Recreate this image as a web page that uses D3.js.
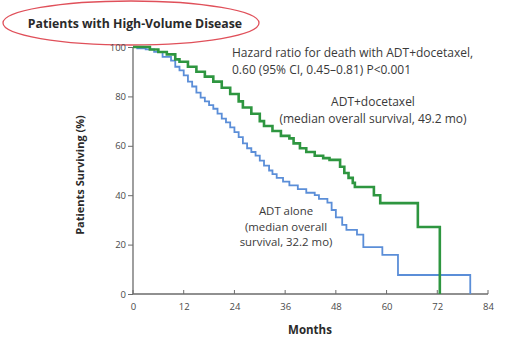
<!DOCTYPE html>
<html><head><meta charset="utf-8">
<script src="https://cdn.jsdelivr.net/npm/d3@7"></script>
<style>body{margin:0;background:#fff;}svg{display:block;font-family:"Open Sans",Lato,sans-serif;}</style>
</head><body>
<svg id="c" width="508" height="340"></svg>
<script>
// Kaplan-Meier steps: ADT + docetaxel
const docetaxelMonths = [0,2,4,6,8,10,11,13,15,17,19,21,23,25,26,28,30,31,33,35,37,38,39.5,41,43,45,46.5,49,50,51,52,52.5,57,58.5,67.4,72.6];
const docetaxelSurv   = [100,100,99,98,97,95,94,92,90,88,86,83.5,81,78,75.5,73,70,68,66,64,63,61,59,57.5,56,55,54.3,51.5,49,47,45,43.3,40,36.8,27.1,0];
// ADT alone
const adtMonths = [0,1,3,5,7,9,10,11,12,13,14,15,16,17,18,19,20,21,22,23,24,25,26,27,28,29,30,31,32.2,33,34,35.5,37,39,41,43,44,46,47,48,49.5,50.5,53,54.5,59,62.7,79.8];
const adtSurv   = [100,99.5,99,98,96,94.5,92,90.5,88.5,86,84,81.5,79.5,78,76.5,75,73,71,69.5,67.5,65.5,63.5,61,59,57.5,56,54,52,50,48.5,47,45.5,44,42.5,41,40,38.5,37,34,31,28,26,24,19,15.8,7.7,0];
const xTicks = [0,12,24,36,48,60,72,84];
const yTicks = [0,20,40,60,80,100];
const titleText = "Patients with High-Volume Disease";
const hrLines = ["Hazard ratio for death with ADT+docetaxel,", "0.60 (95% CI, 0.45\u20130.81) P<0.001"];
const docLabel = ["ADT+docetaxel", "(median overall survival, 49.2 mo)"];
const adtLabel = ["ADT alone", "(median overall", "survival, 32.2 mo)"];

const svg = d3.select("#c");
const x = d3.scaleLinear().domain([0,84]).range([133,488]);
const y = d3.scaleLinear().domain([0,100]).range([294,47]);
const axisColor = "#6b6b6b", textColor = "#4a4a4a";

// Title with red ellipse
svg.append("ellipse").attr("cx",131).attr("cy",23).attr("rx",128).attr("ry",22)
  .attr("fill","none").attr("stroke","#e0505a").attr("stroke-width",1.3);
svg.append("text").attr("x",135).attr("y",28).attr("text-anchor","middle")
  .attr("font-size",12.3).attr("font-weight","bold").attr("fill","#2a2a2a").text(titleText);

// Axes
const yAxis = d3.axisLeft(y).tickValues(yTicks).tickSize(5).tickPadding(2);
const gy = svg.append("g").attr("transform","translate(133,0)").call(yAxis);
const xAxis = d3.axisBottom(x).tickValues(xTicks).tickSize(0).tickPadding(9);
const gx = svg.append("g").attr("transform","translate(0,294)").call(xAxis);
svg.append("g").selectAll("line").data(xTicks).join("line")
  .attr("x1",d=>x(d)).attr("x2",d=>x(d)).attr("y1",290).attr("y2",294)
  .attr("stroke",axisColor).attr("stroke-width",1);
[gx,gy].forEach(g=>{
  g.select(".domain").attr("stroke",axisColor).attr("stroke-width",1.3);
  g.selectAll(".tick line").attr("stroke",axisColor);
  g.selectAll(".tick text").attr("fill",textColor).attr("font-size",9.5).attr("font-family","'Open Sans',sans-serif");
});
gy.select(".domain").attr("d","M0,47V294");
gx.select(".domain").attr("d","M133,0H488");

svg.append("text").attr("x",310).attr("y",334).attr("text-anchor","middle")
  .attr("font-size",11.5).attr("font-weight","bold").attr("fill","#2a2a2a").text("Months");
svg.append("text").attr("transform","translate(84,175) rotate(-90)").attr("text-anchor","middle")
  .attr("font-size",11).attr("font-weight","bold").attr("fill","#2a2a2a").text("Patients Surviving (%)");

// Curves
const line = d3.line().x(d=>x(d[0])).y(d=>y(d[1])).curve(d3.curveStepAfter);
svg.append("path").datum(adtMonths.map((m,i)=>[m,adtSurv[i]]))
  .attr("d",line).attr("fill","none").attr("stroke","#5b8ed8").attr("stroke-width",1.8);
svg.append("path").datum(docetaxelMonths.map((m,i)=>[m,docetaxelSurv[i]]))
  .attr("d",line).attr("fill","none").attr("stroke","#2e9640").attr("stroke-width",2.6);

// Annotations
const ann = (lines, xx, y0, dy, anchor, fs) => {
  const t = svg.append("text").attr("font-size",fs).attr("fill","#3a3a3a").attr("text-anchor",anchor);
  lines.forEach((s,i)=>t.append("tspan").attr("x",xx).attr("y",y0+i*dy).text(s));
};
ann(hrLines, 232, 57, 17, "start", 12);
ann(docLabel, 373, 106, 16.5, "middle", 12);
ann(adtLabel, 286, 215, 15.7, "middle", 11.4);
</script>
</body></html>
